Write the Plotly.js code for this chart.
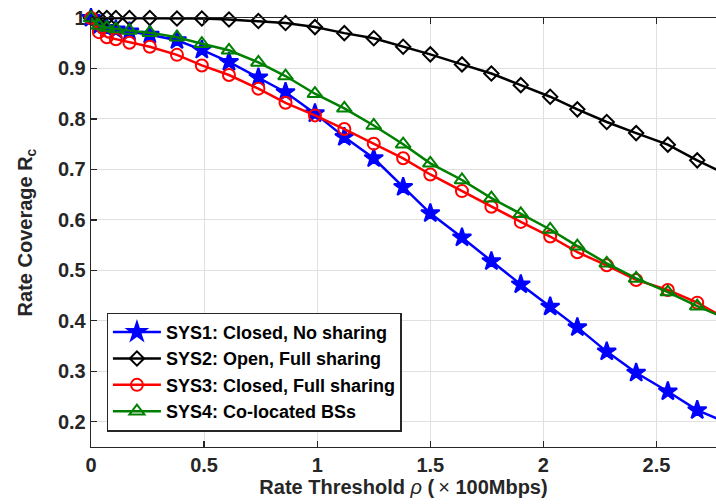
<!DOCTYPE html>
<html>
<head>
<meta charset="utf-8">
<script src="https://cdn.plot.ly/plotly-3.0.1.min.js"></script>
<style>html,body{margin:0;padding:0;overflow:hidden;background:#fff}</style>
</head>
<body>
<div id="chart" style="width:716px;height:504px"></div>
<script>
const rho = [0, 0.035, 0.07, 0.11, 0.17, 0.26, 0.38, 0.49, 0.61, 0.74, 0.86, 0.99, 1.12, 1.25, 1.38, 1.50, 1.64, 1.77, 1.90, 2.03, 2.15, 2.28, 2.41, 2.55, 2.68, 2.81];
const sys1 = [1.0, 0.985, 0.980, 0.977, 0.973, 0.967, 0.956, 0.937, 0.913, 0.882, 0.853, 0.811, 0.764, 0.722, 0.665, 0.613, 0.565, 0.518, 0.472, 0.428, 0.387, 0.339, 0.297, 0.260, 0.223, 0.198];
const sys2 = [1.0, 1.0, 1.0, 1.0, 1.0, 1.0, 0.999, 0.999, 0.997, 0.994, 0.990, 0.982, 0.970, 0.960, 0.943, 0.928, 0.908, 0.890, 0.867, 0.844, 0.819, 0.794, 0.772, 0.749, 0.718, 0.690];
const sys3 = [1.0, 0.972, 0.962, 0.958, 0.951, 0.943, 0.927, 0.906, 0.887, 0.860, 0.832, 0.807, 0.780, 0.751, 0.722, 0.690, 0.657, 0.626, 0.596, 0.567, 0.536, 0.510, 0.481, 0.461, 0.436, 0.403];
const sys4 = [1.0, 0.985, 0.981, 0.978, 0.975, 0.971, 0.962, 0.949, 0.936, 0.912, 0.885, 0.850, 0.821, 0.787, 0.750, 0.712, 0.679, 0.643, 0.612, 0.581, 0.548, 0.514, 0.484, 0.457, 0.429, 0.404];
const names = ["SYS1: Closed, No sharing", "SYS2: Open, Full sharing", "SYS3: Closed, Full sharing", "SYS4: Co-located BSs"];
const xTicks = [0, 0.5, 1, 1.5, 2, 2.5];
const xTickText = ["0", "0.5", "1", "1.5", "2", "2.5"];
const yTicks = [0.2, 0.3, 0.4, 0.5, 0.6, 0.7, 0.8, 0.9, 1];
const yTickText = ["0.2", "0.3", "0.4", "0.5", "0.6", "0.7", "0.8", "0.9", "1"];

const FONT = '"Liberation Sans", Arial, Helvetica, sans-serif';
const INK = '#262626';
const bold = s => '<b>' + s + '</b>';

function tr(y, name, color, symbol, size) {
  return {
    x: rho, y: y, name: bold(name), type: 'scatter', mode: 'lines+markers',
    cliponaxis: false,
    line: {color: color, width: 2.5},
    marker: {symbol: symbol, size: size, color: color, line: {color: color, width: 2}}
  };
}

const data = [
  tr(sys1, names[0], '#0000ff', 'star', 14),
  tr(sys2, names[1], '#000000', 'diamond-open', 11),
  tr(sys3, names[2], '#ff0000', 'circle-open', 12),
  tr(sys4, names[3], '#008000', 'triangle-up-open', 13)
];

const axisCommon = {
  showline: true, linecolor: INK, linewidth: 1.3,
  ticks: 'inside', ticklen: 6, tickwidth: 1.3, tickcolor: INK,
  showgrid: true, gridcolor: '#e0e0e0', gridwidth: 1,
  zeroline: false,
  tickfont: {family: FONT, size: 20, color: INK}
};

const layout = {
  width: 716, height: 504,
  margin: {l: 91, r: 0, t: 18, b: 57},
  paper_bgcolor: '#fff', plot_bgcolor: '#fff',
  font: {family: FONT, color: INK},
  showlegend: true,
  xaxis: Object.assign({}, axisCommon, {
    range: [0, 2.763], tickvals: xTicks, ticktext: xTickText.map(bold), mirror: 'ticks',
    title: {text: '<b>Rate Threshold </b><i>ρ</i><b> (</b>\u2009×<b> 100Mbps)</b>',
            font: {family: FONT, size: 20, color: INK}, standoff: 2}
  }),
  yaxis: Object.assign({}, axisCommon, {
    range: [0.15, 1.0], tickvals: yTicks, ticktext: yTickText.map(bold),
    title: {text: '<b>Rate Coverage R<sub>c</sub></b>',
            font: {family: FONT, size: 20, color: INK}, standoff: 20}
  }),
  legend: {
    x: 0.025, y: 0.036, xanchor: 'left', yanchor: 'bottom',
    bgcolor: '#fff', bordercolor: INK, borderwidth: 1.3,
    font: {family: FONT, size: 18, color: '#000'},
    itemwidth: 48, tracegroupgap: 0
  }
};

Plotly.newPlot('chart', data, layout, {displayModeBar: false, staticPlot: true});
</script>
</body>
</html>
